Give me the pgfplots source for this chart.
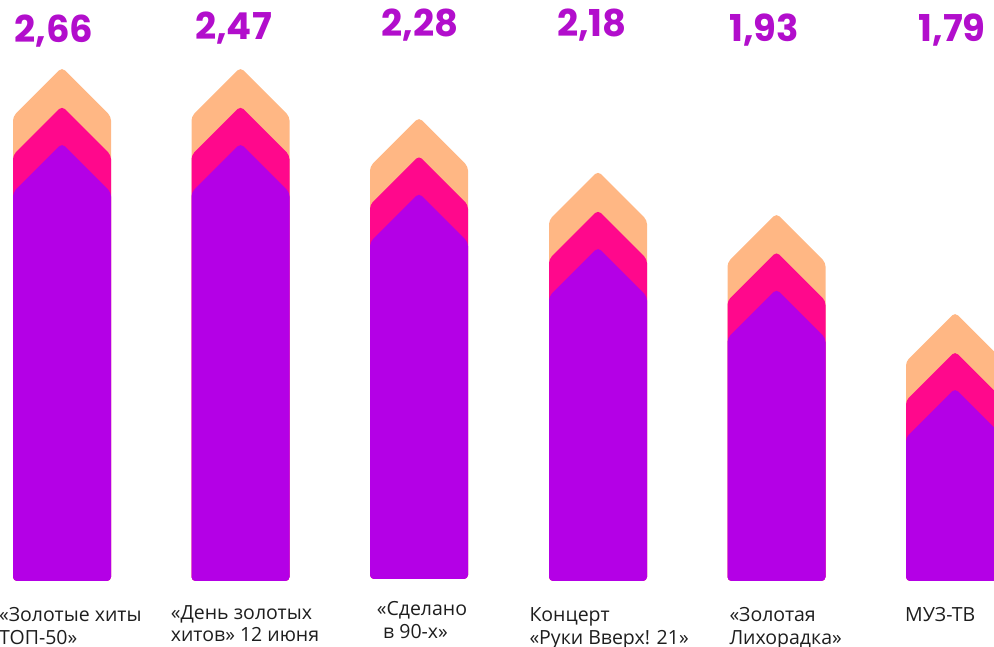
\documentclass[border=0pt]{standalone}
\usepackage{fontspec}
\setmainfont{Open Sans}
\newfontfamily\numfont{Poppins}
\usepackage{pgfplots}
\pgfplotsset{compat=1.18}
\definecolor{cpurple}{RGB}{180,0,230}
\definecolor{cpink}{RGB}{255,8,140}
\definecolor{cpeach}{RGB}{255,183,132}
\definecolor{cnum}{RGB}{178,14,204}
\definecolor{ctext}{RGB}{30,30,30}
\begin{document}
\begin{tikzpicture}
\begin{axis}[at={(0,0)}, anchor=south west, scale only axis,
  width=994pt, height=647pt, xmin=0, xmax=994, ymin=0, ymax=647,
  hide axis, clip mode=individual,
  every axis plot/.append style={draw=none, rounded corners=4pt, mark=none}]
% ---- peach layer
\addplot[fill=cpeach] coordinates {(62,66) (111,66) (111,530.5) (62,579.5) (13,530.5) (13,66) (62,66)};
\addplot[fill=cpeach] coordinates {(240.5,66) (289.5,66) (289.5,530.5) (240.5,579.5) (191.5,530.5) (191.5,66) (240.5,66)};
\addplot[fill=cpeach] coordinates {(419,68) (468,68) (468,480.5) (419,529.5) (370,480.5) (370,68) (419,68)};
\addplot[fill=cpeach] coordinates {(598,66) (647,66) (647,426.8) (598,475.8) (549,426.8) (549,66) (598,66)};
\addplot[fill=cpeach] coordinates {(776.5,66) (825.5,66) (825.5,384.5) (776.5,433.5) (727.5,384.5) (727.5,66) (776.5,66)};
\addplot[fill=cpeach] coordinates {(955,66) (1004,66) (1004,285.5) (955,334.5) (906,285.5) (906,66) (955,66)};
% ---- pink layer
\addplot[fill=cpink] coordinates {(62,66) (111,66) (111,491.8) (62,540.8) (13,491.8) (13,66) (62,66)};
\addplot[fill=cpink] coordinates {(240.5,66) (289.5,66) (289.5,491.8) (240.5,540.8) (191.5,491.8) (191.5,66) (240.5,66)};
\addplot[fill=cpink] coordinates {(419,68) (468,68) (468,442.2) (419,491.2) (370,442.2) (370,68) (419,68)};
\addplot[fill=cpink] coordinates {(598,66) (647,66) (647,387.8) (598,436.8) (549,387.8) (549,66) (598,66)};
\addplot[fill=cpink] coordinates {(776.5,66) (825.5,66) (825.5,346.2) (776.5,395.2) (727.5,346.2) (727.5,66) (776.5,66)};
\addplot[fill=cpink] coordinates {(955,66) (1004,66) (1004,246.5) (955,295.5) (906,246.5) (906,66) (955,66)};
% ---- purple layer
\addplot[fill=cpurple] coordinates {(62,66) (111,66) (111,454.5) (62,503.5) (13,454.5) (13,66) (62,66)};
\addplot[fill=cpurple] coordinates {(240.5,66) (289.5,66) (289.5,454.5) (240.5,503.5) (191.5,454.5) (191.5,66) (240.5,66)};
\addplot[fill=cpurple] coordinates {(419,68) (468,68) (468,404.8) (419,453.8) (370,404.8) (370,68) (419,68)};
\addplot[fill=cpurple] coordinates {(598,66) (647,66) (647,350.5) (598,399.5) (549,350.5) (549,66) (598,66)};
\addplot[fill=cpurple] coordinates {(776.5,66) (825.5,66) (825.5,308.8) (776.5,357.8) (727.5,308.8) (727.5,66) (776.5,66)};
\addplot[fill=cpurple] coordinates {(955,66) (1004,66) (1004,209.5) (955,258.5) (906,209.5) (906,66) (955,66)};
% ---- values
\begin{scope}[every node/.style={anchor=base, inner sep=0pt, overlay, text=cnum, font=\numfont\bfseries\fontsize{37}{40}\selectfont}]
\node at (axis cs:54,604.5) {2,66};
\node at (axis cs:233.5,607.7) {2,47};
\node at (axis cs:420,610.3) {2,28};
\node at (axis cs:592,610) {2,18};
\node at (axis cs:764,605.3) {1,93};
\node at (axis cs:952,605.3) {1,79};
\end{scope}
% ---- category labels
\begin{scope}[every node/.style={anchor=base west, inner sep=0pt, overlay, text=ctext, font=\fontsize{19.5}{22}\selectfont}]
\node at (axis cs:-1,25) {«Золотые хиты};
\node at (axis cs:-1,2.5) {ТОП-50»};
\node at (axis cs:170.7,27) {«День золотых};
\node at (axis cs:170.7,5) {хитов» 12 июня};
\node at (axis cs:376.7,31) {«Сделано};
\node at (axis cs:383,8) {в 90-х»};
\node at (axis cs:529.3,25) {Концерт};
\node at (axis cs:529.3,2.5) {«Руки Вверх! 21»};
\node at (axis cs:729.3,25) {«Золотая};
\node at (axis cs:729.3,2.5) {Лихорадка»};
\node at (axis cs:905,25) {МУЗ-ТВ};
\end{scope}
\end{axis}
\useasboundingbox (0,0) rectangle (994pt,647pt);
\end{tikzpicture}
\end{document}
